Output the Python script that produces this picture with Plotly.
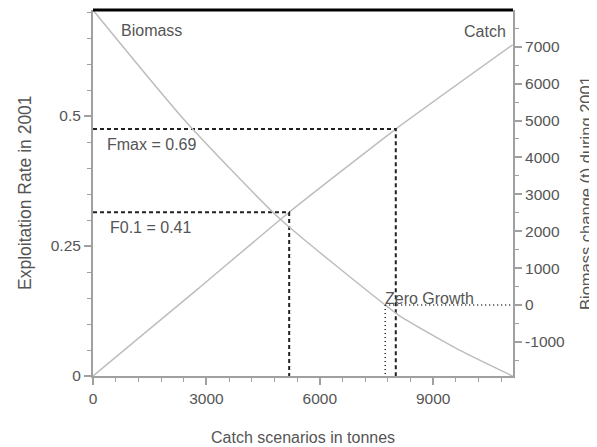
import plotly.graph_objects as go

# ---- data ----
rate_catch = [0, 2800, 5190, 8010, 11100]          # catch scenarios (t)
rate_values = [0, 0.169, 0.315, 0.475, 0.637]      # exploitation rate in 2001

bio_catch = [0, 2430, 4950, 7730, 8120, 9710, 11100]
bio_values = [7995, 5000, 2330, 0, -300, -1230, -1925]   # biomass change (t)

f01_catch, f01_rate = 5190, 0.315
fmax_catch, fmax_rate = 8010, 0.475
zero_catch = 7730

x_ticks = [0, 3000, 6000, 9000]
x_ticktext = ["0", "3000", "6000", "9000"]
y_ticks = [0, 0.25, 0.5]
y_ticktext = ["0", "0.25", "0.5"]
y2_ticks = [-1000, 0, 1000, 2000, 3000, 4000, 5000, 6000, 7000]
y2_ticktext = ["-1000", "0", "1000", "2000", "3000", "4000", "5000", "6000", "7000"]

X_RANGE = [0, 11111]
Y_RANGE = [0, 0.704]
Y2_RANGE = [-1925, 7995]

FONT = "Liberation Sans, Arial, sans-serif"
TXT = "#555555"
CURVE = "#bdbdbd"
AXIS = "#a0a0a0"
DASH = "#222222"

fig = go.Figure()

fig.add_trace(go.Scatter(x=rate_catch, y=rate_values, mode="lines",
                         line=dict(color=CURVE, width=1.5, shape="spline", smoothing=0.5),
                         yaxis="y", hoverinfo="skip"))
fig.add_trace(go.Scatter(x=bio_catch, y=bio_values, mode="lines",
                         line=dict(color=CURVE, width=1.5, shape="spline", smoothing=0.6),
                         yaxis="y2", hoverinfo="skip"))

# F0.1 reference lines
fig.add_trace(go.Scatter(x=[0, f01_catch, f01_catch], y=[f01_rate, f01_rate, 0], mode="lines",
                         line=dict(color=DASH, width=2, dash="4px,3px"), yaxis="y", hoverinfo="skip"))
# Fmax reference lines
fig.add_trace(go.Scatter(x=[0, fmax_catch, fmax_catch], y=[fmax_rate, fmax_rate, 0], mode="lines",
                         line=dict(color=DASH, width=2, dash="4px,3px"), yaxis="y", hoverinfo="skip"))
# zero growth dotted lines
fig.add_trace(go.Scatter(x=[zero_catch, zero_catch], y=[0, Y2_RANGE[0]], mode="lines",
                         line=dict(color=DASH, width=1.5, dash="1px,3px"), yaxis="y2", hoverinfo="skip"))
fig.add_trace(go.Scatter(x=[zero_catch, X_RANGE[1]], y=[0, 0], mode="lines",
                         line=dict(color=DASH, width=1.5, dash="1px,3px"), yaxis="y2", hoverinfo="skip"))

tickfont = dict(family=FONT, size=15.5, color=TXT)

# the page body adds an 8px offset; the figure is sized so that the plot lands where the reference has it
fig.update_layout(
    width=589, height=439,
    margin=dict(l=85, r=84, t=2, b=71),
    paper_bgcolor="white", plot_bgcolor="white",
    showlegend=False,
    xaxis=dict(range=X_RANGE, tickvals=x_ticks, ticktext=x_ticktext,
               showgrid=False, zeroline=False, showline=True, linecolor=AXIS, linewidth=2,
               ticks="outside", ticklen=7, tickwidth=1.5, tickcolor=AXIS, tickfont=tickfont,
               minor=dict(dtick=600, tick0=0, ticks="outside", ticklen=4, tickwidth=1.2, tickcolor=AXIS)),
    yaxis=dict(range=Y_RANGE, tickvals=y_ticks, ticktext=y_ticktext,
               showgrid=False, zeroline=False, showline=True, linecolor=AXIS, linewidth=2,
               ticks="outside", ticklen=7, tickwidth=1.5, tickcolor=AXIS, tickfont=tickfont,
               minor=dict(dtick=0.05, tick0=0, ticks="outside", ticklen=4, tickwidth=1.2, tickcolor=AXIS)),
    yaxis2=dict(range=Y2_RANGE, tickvals=y2_ticks, ticktext=y2_ticktext, overlaying="y", side="right",
                showgrid=False, zeroline=False, showline=True, linecolor=AXIS, linewidth=2,
                ticks="outside", ticklen=7, tickwidth=1.5, tickcolor=AXIS, tickfont=tickfont,
                minor=dict(dtick=500, tick0=0, ticks="outside", ticklen=4, tickwidth=1.2, tickcolor=AXIS)),
)

# thick top border
fig.add_shape(type="line", xref="paper", yref="paper", x0=0, x1=1, y0=1, y1=1,
              line=dict(color="black", width=3))

afont = dict(family=FONT, size=16, color=TXT)
ann = [
    dict(text="Biomass", x=1550, y=0.665, xref="x", yref="y", xanchor="center", yanchor="middle"),
    dict(text="Catch", x=10370, y=0.662, xref="x", yref="y", xanchor="center", yanchor="middle"),
    dict(text="Fmax = 0.69", x=330, y=0.446, xref="x", yref="y", xanchor="left", yanchor="middle"),
    dict(text="F0.1 = 0.41", x=397, y=0.285, xref="x", yref="y", xanchor="left", yanchor="middle"),
    dict(text="Zero Growth", x=zero_catch, y=0, xref="x", yref="y2", xanchor="left", yanchor="middle",
         yshift=6, xshift=-2),
]
for a in ann:
    fig.add_annotation(showarrow=False, font=afont, **a)

# axis titles
tfont = dict(family=FONT, size=17.5, color=TXT)
fig.add_annotation(text="Catch scenarios in tonnes", xref="paper", yref="paper", x=0.5, y=0,
                   xanchor="center", yanchor="middle", yshift=-61, showarrow=False,
                   font=dict(family=FONT, size=16, color=TXT))
fig.add_annotation(text="Exploitation Rate in 2001", xref="paper", yref="paper", x=0, y=0.5,
                   xanchor="center", yanchor="middle", xshift=-68, textangle=-90, showarrow=False, font=tfont)
fig.add_annotation(text="Biomass change (t) during 2001", xref="paper", yref="paper", x=1, y=0.5,
                   xanchor="right", yanchor="middle", xshift=84, yshift=0, textangle=-90, showarrow=False,
                   font=dict(family=FONT, size=16.5, color=TXT))

fig.write_html("out.html")
